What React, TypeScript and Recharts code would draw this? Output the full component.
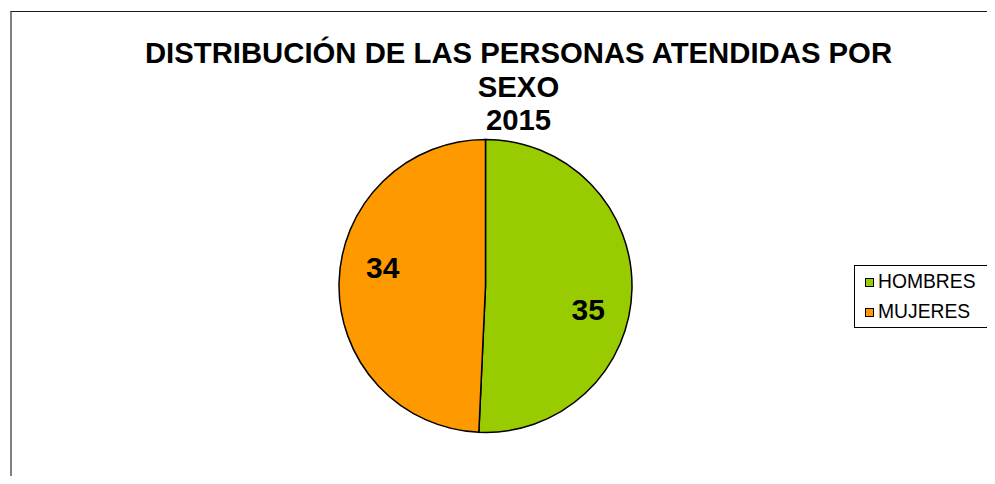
import React from 'react';
import { PieChart, Pie, Cell, Legend } from 'recharts';

const categories = ['HOMBRES', 'MUJERES'];
const values = [35, 34];
const COLORS = ['#99CC00', '#FF9900'];
const titleLines = ['DISTRIBUCIÓN DE LAS PERSONAS ATENDIDAS POR', 'SEXO', '2015'];

const data = categories.map((name, i) => ({ name, value: values[i] }));

const RAD = Math.PI / 180;

const renderLabel = ({ cx, cy, midAngle, outerRadius, value }: any) => {
  const a = midAngle - 10;
  const r = outerRadius * 0.715;
  const x = cx + r * Math.cos(-a * RAD);
  const y = cy + r * Math.sin(-a * RAD) + 2.5;
  return (
    <text
      x={x}
      y={y}
      textAnchor="middle"
      dominantBaseline="central"
      fill="#000"
      style={{ fontFamily: 'Liberation Sans, Arial, sans-serif', fontWeight: 700, fontSize: 30 }}
    >
      {value}
    </text>
  );
};

const LegendBox = () => (
  <div
    style={{
      boxSizing: 'border-box',
      border: '1px solid #000',
      width: 138,
      height: 63,
      fontFamily: 'Liberation Sans, Arial, sans-serif',
      fontSize: 19.3,
      color: '#000',
      paddingTop: 1,
    }}
  >
    {data.map((d, i) => (
      <div key={d.name} style={{ display: 'flex', alignItems: 'center', height: 30, paddingLeft: 10 }}>
        <span
          style={{
            display: 'inline-block',
            width: 7,
            height: 7,
            background: COLORS[i],
            border: '1.5px solid #000',
            marginRight: 4,
          }}
        />
        <span>{d.name}</span>
      </div>
    ))}
  </div>
);

export default function App() {
  return (
    <div
      style={{
        position: 'relative',
        width: 995,
        height: 484,
        margin: -8,
        overflow: 'hidden',
        background: '#fff',
      }}
    >
      <div
        style={{
          position: 'absolute',
          left: 10,
          top: 11,
          right: -20,
          bottom: -20,
          borderTop: '1px solid #1a1a1a',
          borderLeft: '2px solid #808080',
        }}
      />
      <div
        style={{
          position: 'absolute',
          left: 118,
          width: 801,
          top: 36,
          textAlign: 'center',
          fontFamily: 'Liberation Sans, Arial, sans-serif',
          fontWeight: 700,
          fontSize: 29.3,
          lineHeight: '33.5px',
          color: '#000',
        }}
      >
        {titleLines.map((t) => (
          <div key={t}>{t}</div>
        ))}
      </div>
      <div style={{ position: 'absolute', left: 0, top: 0 }}>
        <PieChart width={995} height={484} margin={{ top: 0, right: 0, bottom: 0, left: 0 }}>
          <Pie
            data={data}
            dataKey="value"
            nameKey="name"
            cx={485.5}
            cy={286}
            outerRadius={146.5}
            startAngle={90}
            endAngle={-270}
            stroke="#000"
            strokeWidth={1.5}
            label={renderLabel}
            labelLine={false}
            isAnimationActive={false}
          >
            {data.map((entry, index) => (
              <Cell key={`cell-${index}`} fill={COLORS[index % COLORS.length]} />
            ))}
          </Pie>
          <Legend
            content={<LegendBox />}
            wrapperStyle={{ position: 'absolute', left: 854, top: 265, width: 138, height: 63 }}
          />
        </PieChart>
      </div>
    </div>
  );
}
